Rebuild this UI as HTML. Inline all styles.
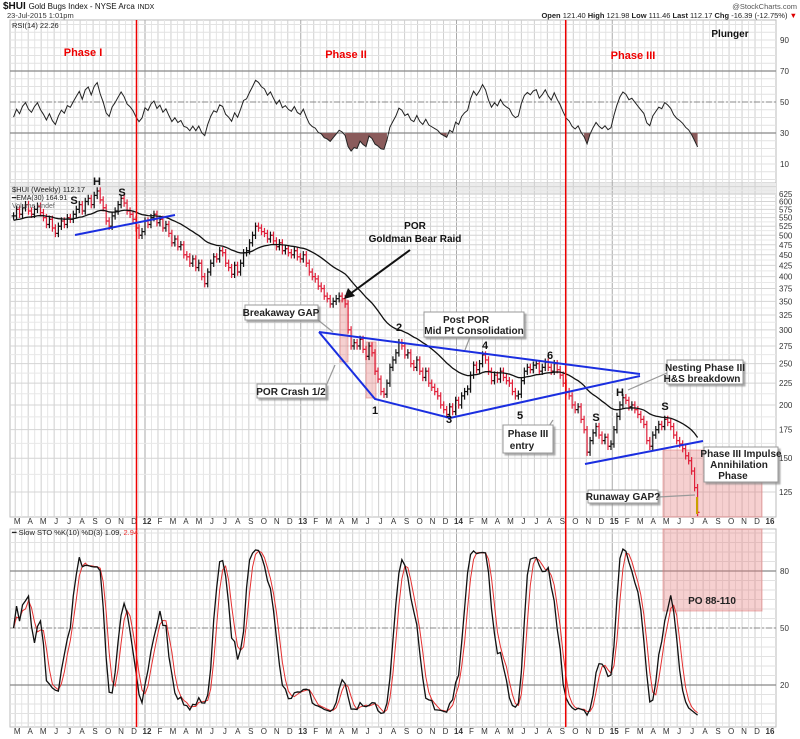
<!DOCTYPE html>
<html><head><meta charset="utf-8">
<style>
html,body{margin:0;padding:0;background:#fff;}
svg{display:block;font-family:"Liberation Sans",sans-serif;}
.ax{font-size:8px;fill:#333;}
.bx{fill:#fff;stroke:#999;stroke-width:1;}
.bt{font-size:10px;font-weight:bold;fill:#222;text-anchor:middle;}
</style></head>
<body>
<svg id="chart" width="800" height="739" viewBox="0 0 800 739" xmlns="http://www.w3.org/2000/svg">
<defs>
<clipPath id="cMain"><rect x="10" y="183" width="766" height="334"/></clipPath>
<clipPath id="cRsi"><rect x="10" y="20" width="766" height="163"/></clipPath>
<clipPath id="cSto"><rect x="10" y="529" width="766" height="198"/></clipPath>
<filter id="sh" x="-10%" y="-10%" width="130%" height="140%"><feDropShadow dx="2" dy="2" stdDeviation="0.8" flood-color="#888" flood-opacity="0.7"/></filter>
</defs>
<g id="grid"></g>
<g id="overlay"></g>
<g id="marks"></g>
<g id="annot"></g>
</svg>
<script>
// ---- data: weekly closes of $HUI, late Feb 2011 -> Jul 2015 (estimated from chart) ----
const closes = [
555,575,560,580,590,570,560,575,585,565,
550,530,545,520,505,525,540,530,550,545,
560,575,590,570,600,610,590,620,635,605,
580,540,525,555,570,590,610,595,570,560,
545,520,500,510,540,530,550,560,535,545,
520,530,505,480,490,470,475,450,445,430,
440,420,430,400,385,410,430,445,440,460,
455,430,420,405,425,410,430,455,460,480,
500,525,520,510,505,490,500,485,470,480,
460,465,455,450,460,445,440,450,430,410,
400,395,380,375,360,355,345,350,355,360,
355,345,300,275,280,275,285,270,260,275,
265,240,230,215,212,225,245,255,265,280,
275,262,265,250,245,255,240,232,240,225,
220,215,210,200,195,190,198,193,205,200,
210,215,218,235,248,242,250,262,255,240,
228,235,230,240,232,228,225,215,210,212,
228,240,245,242,248,250,240,245,252,245,
240,250,242,235,225,215,210,200,195,198,
185,175,155,165,172,178,170,165,168,160,
162,175,188,200,208,205,198,200,195,190,
185,180,165,160,170,175,180,178,185,182,
178,170,165,162,158,152,148,140,128,112
];
const priceTicks = [625,600,575,550,525,500,475,450,425,400,375,350,325,300,275,250,225,200,175,150,125];
const rsiTicks = [90,70,50,30,10];
const stoTicks = [80,50,20];
const monthLetters = ["J","F","M","A","M","J","J","A","S","O","N","D"];
const startDay = 57; // day-of-year of first bar in 2011

const NS="http://www.w3.org/2000/svg";
function mk(tag, attrs, parent, text){
  const e=document.createElementNS(NS,tag);
  for(const k in attrs) e.setAttribute(k,attrs[k]);
  if(text!==undefined) e.textContent=text;
  parent.appendChild(e); return e;
}
// axis functions
const xT = t => 145 + 155.75*(t-2012);
const xI = i => xT(2011 + (startDay+7*i)/365);
const yP = p => 492 - 185.2*Math.log(p/125);
const yR = v => 133 - (v-30)*1.55;
const yS = v => 628 - (v-50)*1.9;

const grid=document.getElementById('grid'), marks=document.getElementById('marks'),
      annot=document.getElementById('annot'), overlay=document.getElementById('overlay');

// panels
[[20,163],[183,334],[529,198]].forEach(([y,h],k)=>{
  const r=mk('rect',{x:10,y:y,width:766,height:h,fill:'#fff',stroke:'#bbb','stroke-width':1},grid);
  
  
});
mk('rect',{x:10,y:183,width:766,height:12,fill:'#ececec'},grid);
// vertical grid
for(let y=2011;y<=2015;y++) for(let m=0;m<12;m++){
  const t=y+m/12, x=xT(t), xh=xT(t+0.5/12);
  [[20,183],[183,517],[529,727]].forEach(([a,b])=>{
    if(x>10&&x<776) mk('line',{x1:x,x2:x,y1:a,y2:b,stroke:m===0?'#aaa':'#cfcfcf','stroke-width':1},grid);
    if(xh>10&&xh<776) mk('line',{x1:xh,x2:xh,y1:a,y2:b,stroke:'#e6e6e6','stroke-width':1},grid);
  });
}
// horizontal grid
for(let p=125;p<=650;p+=12.5){const y=yP(p); if(y>183&&y<517) mk('line',{x1:10,x2:776,y1:y,y2:y,stroke:p%25===0?'#d4d4d4':'#e8e8e8'},grid);}
for(let v=0;v<=100;v+=5){const y=yR(v); if(y>20&&y<183) mk('line',{x1:10,x2:776,y1:y,y2:y,stroke:'#e2e2e2'},grid);}
for(let v=0;v<=100;v+=5){const y=yS(v); if(y>529&&y<727) mk('line',{x1:10,x2:776,y1:y,y2:y,stroke:'#e2e2e2'},grid);}
[70,30].forEach(v=>mk('line',{x1:10,x2:776,y1:yR(v),y2:yR(v),stroke:'#888','stroke-width':1.2},grid));
mk('line',{x1:10,x2:776,y1:yR(50),y2:yR(50),stroke:'#888','stroke-dasharray':'6,2,2,2'},grid);
[80,20].forEach(v=>mk('line',{x1:10,x2:776,y1:yS(v),y2:yS(v),stroke:'#888','stroke-width':1.2},grid));
mk('line',{x1:10,x2:776,y1:yS(50),y2:yS(50),stroke:'#888','stroke-dasharray':'6,2,2,2'},grid);

// right axis labels
rsiTicks.forEach(v=>{const t=mk('text',{x:780,y:yR(v)+3,class:'ax'},grid,String(v));
   });
priceTicks.forEach(v=>{const t=mk('text',{x:779,y:yP(v)+3,class:'ax','font-size':'7.5px'},grid,String(v));
   });
stoTicks.forEach(v=>{const t=mk('text',{x:780,y:yS(v)+3,class:'ax'},grid,String(v));
   });
// month labels (two rows)
for(let y=2011;y<=2016;y++) for(let m=0;m<12;m++){
  const t=y+m/12, x=xT(t)+2; if(x<14||x>772) continue;
  const lab = m===0 ? String(y%100) : monthLetters[m];
  [524,734].forEach(yy=>{
    const e=mk('text',{x:x,y:yy,class:'ax','text-anchor':'middle','font-weight':m===0?'bold':'normal'},grid,lab);
     
  });
}

// overlays (pink zones)
[[663,450,99,67],[663,529,99,82],[340,300,8,62],[366,342,10,56]].forEach(([x,y,w,h])=>{
  const r=mk('rect',{x:x,y:y,width:w,height:h,fill:'rgba(230,120,120,0.35)',stroke:'rgba(220,110,110,0.5)'},overlay);
   
});

// OHLC derived
const n=closes.length, opens=[],highs=[],lows=[];
for(let i=0;i<n;i++){const o=i?closes[i-1]:closes[0];opens.push(o);
  highs.push(Math.max(o,closes[i])*1.02); lows.push(Math.min(o,closes[i])*0.98);}
// price bars
const gm=mk('g',{'clip-path':'url(#cMain)'},marks);
for(let i=0;i<n;i++){
  const x=xI(i), col=(i&&closes[i]<closes[i-1])?'#e0203a':'#111';
  const g=mk('g',{stroke:col,'stroke-width':1.2},gm);
  
  
  mk('line',{x1:x,x2:x,y1:yP(highs[i]),y2:yP(lows[i])},g);
  mk('line',{x1:x-2,x2:x,y1:yP(opens[i]),y2:yP(opens[i])},g);
  mk('line',{x1:x,x2:x+2,y1:yP(closes[i]),y2:yP(closes[i])},g);
}
// EMA30
let ema=[],e=closes[0]*0.975;const k=2/31;
closes.forEach(c=>{e=c*k+e*(1-k);ema.push(e);});
const emaLine=mk('polyline',{points:ema.map((v,i)=>xI(i)+','+yP(v)).join(' '),fill:'none',stroke:'#111','stroke-width':1.3},gm);
 

// RSI14
let rsi=[],ag=0,al=0;
for(let i=1;i<=14;i++){const d=closes[i]-closes[i-1];if(d>0)ag+=d;else al-=d;} ag/=14;al/=14;
ag*=1.05;
for(let i=0;i<n;i++){ if(i>0){const d=closes[i]-closes[i-1];ag=(ag*13+Math.max(d,0))/14;al=(al*13+Math.max(-d,0))/14;}
  rsi.push(al===0?100:100-100/(1+ag/al));}
const gr=mk('g',{'clip-path':'url(#cRsi)'},marks);
// shading below 30
let seg=[];
const flush=()=>{ if(seg.length>1){const pts=seg.map(([x,y])=>x+','+y);
  const p=mk('polygon',{points:seg[0][0]+','+yR(30)+' '+pts.join(' ')+' '+seg[seg.length-1][0]+','+yR(30),fill:'#8a5b5b'},gr);
   } seg=[]; };
for(let i=0;i<n;i++){ if(rsi[i]<30) seg.push([xI(i),yR(rsi[i])]); else flush(); } flush();
const rl=mk('polyline',{points:rsi.map((v,i)=>xI(i)+','+yR(v)).join(' '),fill:'none',stroke:'#222','stroke-width':1},gr);
 

// Slow stochastic 10,3
const fk=[];
for(let i=0;i<n;i++){let hh=-1e9,ll=1e9;for(let j=Math.max(0,i-9);j<=i;j++){hh=Math.max(hh,highs[j]);ll=Math.min(ll,lows[j]);}
  fk.push((closes[i]-ll)/(hh-ll)*100);}
const sma=(a,p)=>a.map((v,i)=>{let s=0,c=0;for(let j=Math.max(0,i-p+1);j<=i;j++){s+=a[j];c++;}return s/c;});
const sk=sma(fk,3), sd=sma(sk,3);
const gs=mk('g',{'clip-path':'url(#cSto)'},marks);
const dl=mk('polyline',{points:sd.map((v,i)=>xI(i)+','+yS(v)).join(' '),fill:'none',stroke:'#e53030','stroke-width':1},gs);
 
const kl=mk('polyline',{points:sk.map((v,i)=>xI(i)+','+yS(v)).join(' '),fill:'none',stroke:'#111','stroke-width':1.3},gs);
 

// phase dividers
[136.5,565.7].forEach(x=>{const l=mk('line',{x1:x,x2:x,y1:20,y2:727,stroke:'#e00','stroke-width':1.5},annot);
   });

// blue trend lines
[[[75,235],[175,215]],[[319,332],[640,374]],[[319,332],[375,399],[450,418],[640,376]],[[585,464],[703,441]]].forEach(pts=>{
  const p=mk('polyline',{points:pts.map(a=>a.join(',')).join(' '),fill:'none',stroke:'#1a2ee0','stroke-width':2},annot);
   
});
// arrow
const ar=mk('line',{x1:410,y1:250,x2:350,y2:294,stroke:'#111','stroke-width':2},annot);
 
mk('polygon',{points:'344,299 348,288 355,296',fill:'#111'},annot);
// pointer lines
[[[318,320],[333,332]],[[326,386],[335,365]],[[470,337],[465,350]],[[540,440],[553,420]],[[667,373],[628,390]],[[658,497],[695,495]]].forEach(pts=>{
  mk('polyline',{points:pts.map(a=>a.join(',')).join(' '),fill:'none',stroke:'#999','stroke-width':1.2},annot);
});
</script>
<svg style="position:absolute;left:0;top:0" width="800" height="739" viewBox="0 0 800 739" font-family="Liberation Sans, sans-serif">
<g>
<text x="3" y="9" font-size="10" font-weight="bold" fill="#111">$HUI <tspan font-size="8" font-weight="normal">Gold Bugs Index - NYSE Arca</tspan> <tspan font-size="7" font-weight="normal">INDX</tspan></text>
<text x="7" y="18" font-size="7.5" fill="#333">23-Jul-2015 1:01pm</text>
<text x="797" y="9" font-size="7.5" fill="#555" text-anchor="end">@StockCharts.com</text>
<text x="797" y="18" font-size="7.5" fill="#222" text-anchor="end"><tspan font-weight="bold">Open</tspan> 121.40 <tspan font-weight="bold">High</tspan> 121.98 <tspan font-weight="bold">Low</tspan> 111.46 <tspan font-weight="bold">Last</tspan> 112.17 <tspan font-weight="bold">Chg</tspan> -16.39 (-12.75%) <tspan fill="#d00">▼</tspan></text>
</g>
<text x="12" y="28" font-size="7.5" fill="#222">RSI(14) 22.26</text>
<text x="12" y="192" font-size="7.5" fill="#222">$HUI (Weekly) 112.17</text>
<text x="12" y="200" font-size="7" fill="#222">━EMA(30) 164.91</text>
<text x="12" y="208" font-size="7" fill="#666">Volume undef</text>
<text x="12" y="535" font-size="7.5" fill="#222">━ Slow STO %K(10) %D(3) 1.09, <tspan fill="#e33">2.94</tspan></text>
<g font-weight="bold" font-size="11" fill="#e00" text-anchor="middle">
<text x="83" y="56">Phase I</text>
<text x="346" y="58">Phase II</text>
<text x="633" y="59">Phase III</text>
</g>
<text x="730" y="37" font-size="10" font-weight="bold" fill="#111" text-anchor="middle">Plunger</text>
<g font-weight="bold" font-size="11" fill="#111" text-anchor="middle">
<text x="74" y="204">S</text><text x="97" y="185">H</text><text x="122" y="196">S</text>
<text x="375" y="414">1</text><text x="399" y="331">2</text><text x="449" y="423">3</text>
<text x="485" y="349">4</text><text x="520" y="419">5</text><text x="550" y="359">6</text>
<text x="596" y="421">S</text><text x="620" y="396">H</text><text x="665" y="410">S</text>
<text x="415" y="229" font-size="10">POR</text><text x="415" y="242" font-size="10">Goldman Bear Raid</text>
</g>
<g><rect class="bx" filter="url(#sh)" x="245" y="305" width="73" height="15"/><text class="bt" x="281" y="316">Breakaway GAP</text></g>
<g><rect class="bx" filter="url(#sh)" x="257" y="384" width="69" height="14"/><text class="bt" x="291" y="395">POR Crash 1/2</text></g>
<g><rect class="bx" filter="url(#sh)" x="424" y="312" width="100" height="25"/><text class="bt" x="466" y="323">Post POR</text><text class="bt" x="474" y="334">Mid Pt Consolidation</text></g>
<g><rect class="bx" filter="url(#sh)" x="503" y="425" width="50" height="28"/><text class="bt" x="528" y="437">Phase III</text><text class="bt" x="522" y="449">entry</text></g>
<g><rect class="bx" filter="url(#sh)" x="667" y="360" width="76" height="24"/><text class="bt" x="705" y="371">Nesting Phase III</text><text class="bt" x="702" y="382">H&amp;S breakdown</text></g>
<g><rect class="bx" filter="url(#sh)" x="704" y="447" width="74" height="35"/><text class="bt" x="741" y="457">Phase III Impulse</text><text class="bt" x="739" y="468">Annihilation</text><text class="bt" x="733" y="479">Phase</text></g>
<g><rect class="bx" filter="url(#sh)" x="588" y="490" width="70" height="13"/><text class="bt" x="623" y="500">Runaway GAP?</text></g>
<line x1="697" y1="497" x2="697" y2="514" stroke="#c9a000" stroke-width="2"/>
<text x="712" y="604" font-size="10" font-weight="bold" fill="#222" text-anchor="middle">PO 88-110</text>
</svg>
</body></html>
